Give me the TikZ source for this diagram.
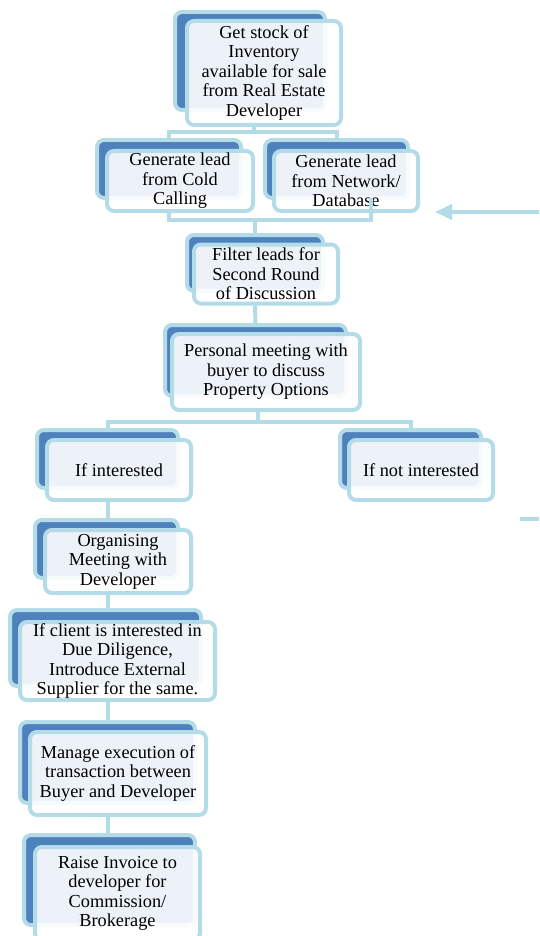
\documentclass[tikz,border=0pt]{standalone}
\usepackage{fontspec}
\setmainfont{Liberation Serif}
\usetikzlibrary{arrows.meta,calc}
\definecolor{dblue}{HTML}{4F81BD}
\definecolor{lblue}{HTML}{B4DCE8}
\begin{document}
\begin{tikzpicture}[x=1pt,y=-1pt,
  backbox/.style={draw=lblue,line width=4pt,fill=dblue,rounded corners=7pt,inner sep=0pt},
  frontbox/.style={draw=lblue,line width=4pt,fill=white,fill opacity=0.9,draw opacity=1,text opacity=1,
    rounded corners=7pt,inner sep=0pt,align=center,font=\fontsize{18.3}{19.5}\selectfont},
  conn/.style={draw=lblue,line width=4pt}]
\useasboundingbox (0,0) rectangle (539,936);
% boxes
\node[backbox,minimum width=150,minimum height=98] (top-b) at (250,61) {};
\node[frontbox,minimum width=154,minimum height=104] (top-f) at (264,73) {Get stock of\\Inventory\\available for sale\\from Real Estate\\Developer};
\node[backbox,minimum width=144,minimum height=58] (cold-b) at (169,169) {};
\node[frontbox,minimum width=146,minimum height=60] (cold-f) at (180,181) {Generate lead\\from Cold\\Calling};
\node[backbox,minimum width=143,minimum height=58] (net-b) at (336.5,169) {};
\node[frontbox,minimum width=144,minimum height=60] (net-f) at (346,181) {Generate lead\\from Network/\\Database};
\node[backbox,minimum width=136,minimum height=56] (filt-b) at (255,263) {};
\node[frontbox,minimum width=144,minimum height=59] (filt-f) at (266,274) {Filter leads for\\Second Round\\of Discussion};
\node[backbox,minimum width=181,minimum height=71] (pers-b) at (255.5,360.5) {};
\node[frontbox,minimum width=188,minimum height=76] (pers-f) at (266,372) {Personal meeting with\\buyer to discuss\\Property Options};
\node[backbox,minimum width=141,minimum height=58] (int-b) at (107.5,459) {};
\node[frontbox,minimum width=144,minimum height=60] (int-f) at (119,470) {If interested};
\node[backbox,minimum width=141,minimum height=58] (not-b) at (410.5,459) {};
\node[frontbox,minimum width=144,minimum height=60] (not-f) at (421,470) {If not interested};
\node[backbox,minimum width=143,minimum height=58] (org-b) at (106.5,549) {};
\node[frontbox,minimum width=146,minimum height=63] (org-f) at (118,561.5) {Organising\\Meeting with\\Developer};
\node[backbox,minimum width=191,minimum height=76] (due-b) at (105.5,648) {};
\node[frontbox,minimum width=195,minimum height=78] (due-f) at (117.5,661) {If client is interested in\\Due Diligence,\\Introduce External\\Supplier for the same.};
\node[backbox,minimum width=175,minimum height=81] (man-b) at (107.5,762.5) {};
\node[frontbox,minimum width=176,minimum height=83] (man-f) at (118,773.5) {Manage execution of\\transaction between\\Buyer and Developer};
\node[backbox,minimum width=171,minimum height=90] (rai-b) at (109.5,880) {};
\node[frontbox,minimum width=165,minimum height=93] (rai-f) at (117.5,893.5) {Raise Invoice to\\developer for\\Commission/\\Brokerage};
% junctions
\coordinate (j1) at (254,132);
\coordinate (j2) at (255,220);
\coordinate (netdrop) at (371,198);
\coordinate (j3) at (258,422);
\coordinate (ar1) at (539,212);
\coordinate (ar2) at (435,212);
\coordinate (s1) at (520,519);
\coordinate (s2) at (539,519);
% connectors
\draw[conn] (j1 |- top-f.south) -- (j1);
\draw[conn] (cold-b.north) |- (j1) -| (net-b.north);
\draw[conn] (cold-b.south |- cold-f.south) |- (netdrop |- j2) -- (netdrop);
\draw[conn] (filt-b.north) -- (j2);
\draw[conn] (filt-b.north |- filt-f.south) -- (pers-b.north);
\draw[conn] (j3 |- pers-f.south) -- (j3);
\draw[conn] (int-b.north) |- (j3) -| (not-b.north);
\draw[conn] (int-b.north |- int-f.south) -- (int-b.north |- org-b.north);
\draw[conn] (int-b.north |- org-f.south) -- (int-b.north |- due-b.north);
\draw[conn] (int-b.north |- due-f.south) -- (int-b.north |- man-b.north);
\draw[conn] (int-b.north |- man-f.south) -- (int-b.north |- rai-b.north);
\draw[conn,-{Triangle[length=17pt,width=15pt]}] (ar1) -- (ar2);
\draw[conn] (s1) -- (s2);
\end{tikzpicture}
\end{document}
